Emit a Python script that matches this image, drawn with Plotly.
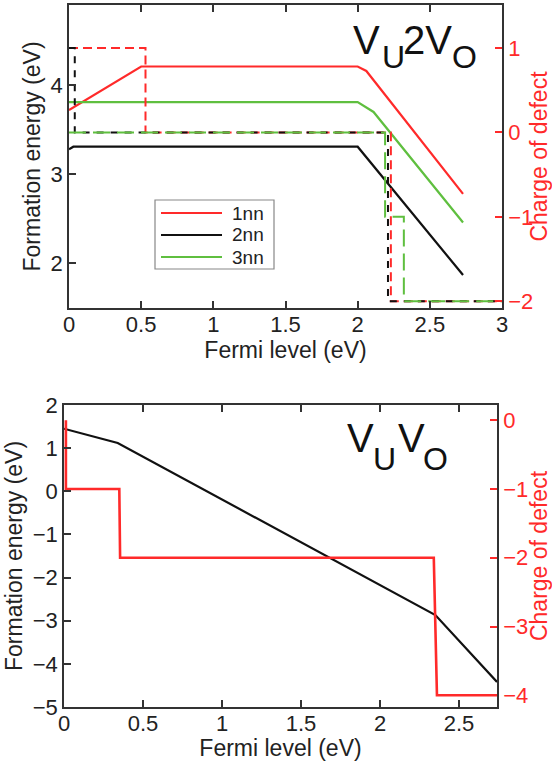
import plotly.graph_objects as go

W, H = 552, 761

# ---------------- data: top panel (V_U 2V_O) ----------------
series_names = ["1nn", "2nn", "3nn"]
series_colors = ["#ff2a2a", "#111111", "#5fbf3f"]

ef_1nn_x = [0, 0.5, 2.0, 2.06, 2.73]
ef_1nn_y = [3.72, 4.21, 4.21, 4.16, 2.78]
ef_2nn_x = [0, 0.03, 2.0, 2.73]
ef_2nn_y = [3.28, 3.31, 3.31, 1.87]
ef_3nn_x = [0, 2.0, 2.11, 2.73]
ef_3nn_y = [3.81, 3.81, 3.70, 2.46]

q_1nn_x = [0, 0.53, 0.53, 2.23, 2.23, 3.0]
q_1nn_y = [1, 1, 0, 0, -2, -2]
q_2nn_x = [0, 0.04, 0.04, 2.21, 2.21, 3.0]
q_2nn_y = [1, 1, 0, 0, -2, -2]
q_3nn_x = [0, 2.19, 2.19, 2.32, 2.32, 3.0]
q_3nn_y = [0, 0, -1, -1, -2, -2]

# ---------------- data: bottom panel (V_U V_O) ----------------
ef_b_x = [0, 0.34, 2.35, 2.74]
ef_b_y = [1.45, 1.12, -2.87, -4.42]
q_b_x = [0.012, 0.012, 0.35, 0.355, 2.34, 2.36, 2.74]
q_b_y = [0, -1, -1, -2, -2, -4, -4]

top_x_ticks = [0, 0.5, 1, 1.5, 2, 2.5, 3]
top_x_labels = ["0", "0.5", "1", "1.5", "2", "2.5", "3"]
bot_x_ticks = [0, 0.5, 1, 1.5, 2, 2.5]
bot_x_labels = ["0", "0.5", "1", "1.5", "2", "2.5"]

FONT = "Liberation Sans, Arial, Helvetica, sans-serif"
RED = "#ff2a2a"
AX = "#333333"

fig = go.Figure()

# charge (dashed) lines, top panel
fig.add_trace(go.Scatter(x=q_1nn_x, y=q_1nn_y, mode="lines", xaxis="x", yaxis="y2",
                         line=dict(color=series_colors[0], width=2, dash="9px,5px"), showlegend=False))
fig.add_trace(go.Scatter(x=q_2nn_x, y=q_2nn_y, mode="lines", xaxis="x", yaxis="y2",
                         line=dict(color=series_colors[1], width=2, dash="7px,7px"), showlegend=False))
fig.add_trace(go.Scatter(x=q_3nn_x, y=q_3nn_y, mode="lines", xaxis="x", yaxis="y2",
                         line=dict(color=series_colors[2], width=2, dash="17px,7px"), showlegend=False))

# formation energy (solid), top panel
for xs, ys, name, col in [(ef_1nn_x, ef_1nn_y, series_names[0], series_colors[0]),
                          (ef_2nn_x, ef_2nn_y, series_names[1], series_colors[1]),
                          (ef_3nn_x, ef_3nn_y, series_names[2], series_colors[2])]:
    fig.add_trace(go.Scatter(x=xs, y=ys, mode="lines", name=name, xaxis="x", yaxis="y",
                             line=dict(color=col, width=2.2), showlegend=False))

# bottom panel
fig.add_trace(go.Scatter(x=q_b_x, y=q_b_y, mode="lines", xaxis="x2", yaxis="y4",
                         line=dict(color=RED, width=2.6), showlegend=False))
fig.add_trace(go.Scatter(x=ef_b_x, y=ef_b_y, mode="lines", xaxis="x2", yaxis="y3",
                         line=dict(color="#111111", width=2.2), showlegend=False))

tickfont = dict(family=FONT, size=22, color="#222222")
titlefont = dict(family=FONT, size=23, color="#222222")
redtick = dict(family=FONT, size=22, color=RED)
redtitle = dict(family=FONT, size=23, color=RED)

def xax(domain, anchor, rng, tv, tt):
    return dict(domain=domain, anchor=anchor, range=rng, tickvals=tv, ticktext=tt,
                automargin=False, ticklabelstandoff=-4,
                ticks="inside", ticklen=7, tickwidth=1.5, tickcolor=AX, mirror="ticks",
                showline=True, linecolor=AX, linewidth=1.5, showgrid=False, zeroline=False,
                tickfont=tickfont, title=dict(text="Fermi level (eV)", font=titlefont, standoff=5))

def yleft(domain, anchor, rng, dtick):
    return dict(domain=domain, anchor=anchor, range=rng, dtick=dtick,
                automargin=False,
                ticks="inside", ticklen=7, tickwidth=1.5, tickcolor=AX,
                showline=True, linecolor=AX, linewidth=1.5, showgrid=False, zeroline=False,
                tickfont=tickfont, title=dict(text="Formation energy (eV)", font=titlefont, standoff=4))

def yright(over, anchor, rng):
    return dict(overlaying=over, anchor=anchor, side="right", range=rng, dtick=1,
                automargin=False,
                ticks="inside", ticklen=7, tickwidth=1.5, tickcolor=RED,
                showline=True, linecolor=AX, linewidth=1.5, showgrid=False, zeroline=False,
                tickfont=redtick, title=dict(text="Charge of defect", font=redtitle, standoff=4))

fig.update_layout(
    width=W, height=H, margin=dict(l=0, r=0, t=0, b=0, autoexpand=False),
    paper_bgcolor="white", plot_bgcolor="white", showlegend=False,
    xaxis=xax([69 / W, 502 / W], "y", [0, 3], top_x_ticks, top_x_labels),
    yaxis=yleft([1 - 308 / H, 1 - 5 / H], "x", [1.5, 4.9], 1),
    yaxis2=yright("y", "x", [-2.08, 1.51]),
    xaxis2=xax([64 / W, 497 / W], "y3", [0, 2.74], bot_x_ticks, bot_x_labels),
    yaxis3=yleft([1 - 707 / H, 1 - 405 / H], "x2", [-5, 2], 1),
    yaxis4=yright("y3", "x2", [-4.17, 0.22]),
)

# manual legend box (top panel)
shapes = [dict(type="rect", xref="paper", yref="paper",
               x0=155 / W, x1=274 / W, y0=1 - 269 / H, y1=1 - 200 / H,
               line=dict(color="#888888", width=1.2), fillcolor="white")]
annotations = []
for i, (name, col) in enumerate(zip(series_names, series_colors)):
    yy = 213 + i * 22
    shapes.append(dict(type="line", xref="paper", yref="paper",
                       x0=161 / W, x1=222 / W, y0=1 - yy / H, y1=1 - yy / H,
                       line=dict(color=col, width=2.2)))
    annotations.append(dict(text=name, xref="paper", yref="paper", x=231 / W, y=1 - yy / H,
                            xanchor="left", yanchor="middle", showarrow=False, borderpad=0,
                            font=dict(family=FONT, size=19, color="#222222")))

# panel labels
def lbl(text, xpx, ypx, size):
    return dict(text=text, xref="paper", yref="paper", x=xpx / W, y=1 - ypx / H,
                xanchor="left", yanchor="middle", showarrow=False,
                font=dict(family=FONT, size=size, color="#111111"), borderpad=0)

annotations += [lbl("V", 352, 40, 40), lbl("U", 381, 57, 32), lbl("2V", 402, 40, 40), lbl("O", 451, 57, 32)]
annotations += [lbl("V", 346, 438, 40), lbl("U", 372, 459, 32), lbl("V", 397, 438, 40), lbl("O", 422, 459, 32)]

fig.update_layout(shapes=shapes, annotations=annotations)

fig.write_html("out.html")
